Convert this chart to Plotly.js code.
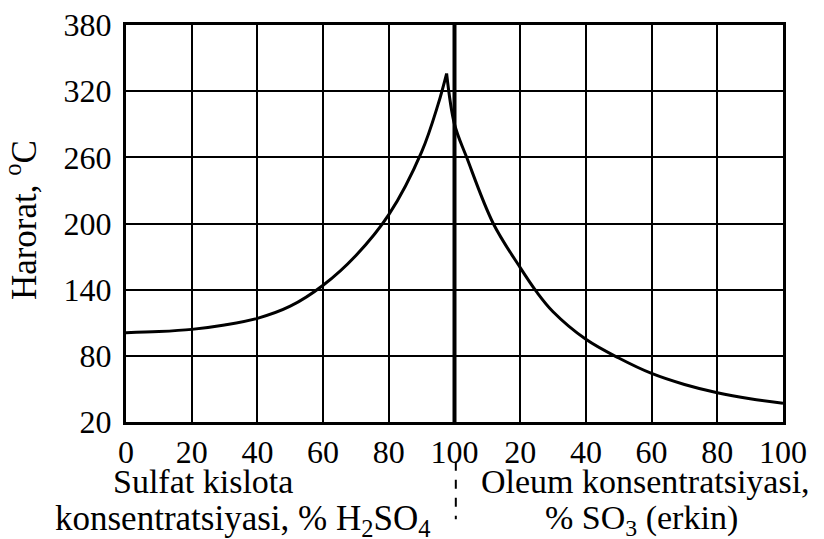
<!DOCTYPE html>
<html>
<head>
<meta charset="utf-8">
<script src="https://cdn.plot.ly/plotly-3.0.1.min.js"></script>
<style>html,body{margin:0;padding:0;background:#fff;}#chart{width:824px;height:539px;}</style>
</head>
<body>
<div id="chart"></div>
<script>
// Sulfuric acid branch: % H2SO4 -> temperature (°C)
const h2so4Pct  = [0, 10, 20, 30, 40, 50, 60, 70, 80, 90, 95, 97.6];
const h2so4Temp = [101, 102, 104, 108, 114, 125, 144, 171, 208, 265, 308, 336];
// Oleum branch: % free SO3 -> temperature (°C)
const oleumPct  = [0, 3.7, 11.8, 20, 25, 30, 40, 50, 60, 70, 80, 90, 100];
const oleumTemp = [290, 260, 200, 160, 138, 120, 95, 78, 64, 54, 46.5, 41, 37];
// Tick values on the combined axis and their labels
const xTickVals = [0, 20, 40, 60, 80, 100, 120, 140, 160, 180, 200];
const xTickText = ["0", "20", "40", "60", "80", "100", "20", "40", "60", "80", "100"];
const yTickVals = [20, 80, 140, 200, 260, 320, 380];

const serif = "Liberation Serif, Times New Roman, serif";
const peakX = h2so4Pct[h2so4Pct.length - 1];
const peakY = h2so4Temp[h2so4Temp.length - 1];

const traces = [
  {x: h2so4Pct, y: h2so4Temp, mode: "lines", line: {color: "#000", width: 3, shape: "spline", smoothing: 1}, hoverinfo: "skip"},
  {x: [peakX].concat(oleumPct.map(v => 100 + v)), y: [peakY].concat(oleumTemp), mode: "lines",
   line: {color: "#000", width: 3, shape: "spline", smoothing: 1}, hoverinfo: "skip"}
];

const txt = {family: serif, size: 34, color: "#000"};

const layout = {
  width: 824, height: 539,
  margin: {l: 126, r: 41, t: 25, b: 117},
  paper_bgcolor: "#fff", plot_bgcolor: "#fff",
  showlegend: false,
  font: {family: serif, color: "#000", size: 32},
  xaxis: {
    range: [0, 200], tickvals: xTickVals, ticktext: xTickText, ticks: "",
    showgrid: true, gridcolor: "#000", gridwidth: 2,
    showline: true, linecolor: "#000", linewidth: 3, mirror: true,
    zeroline: false, ticklabelstandoff: 0,
    tickfont: {family: serif, size: 32, color: "#000"}
  },
  yaxis: {
    range: [20, 380], tickvals: yTickVals, ticks: "",
    showgrid: true, gridcolor: "#000", gridwidth: 2,
    showline: true, linecolor: "#000", linewidth: 3, mirror: true,
    zeroline: false, ticklabelstandoff: 5,
    tickfont: {family: serif, size: 32, color: "#000"}
  },
  shapes: [
    {type: "line", xref: "x", yref: "paper", x0: 100, x1: 100, y0: 0, y1: 1, line: {color: "#000", width: 4}},
    {type: "line", xref: "x", yref: "paper", x0: 100.4, x1: 100.4, y0: -0.1, y1: -0.245, line: {color: "#000", width: 2, dash: "dash"}}
  ],
  annotations: [
    {text: "Harorat, <sup>o</sup>C", xref: "paper", yref: "paper", x: -0.158, y: 0.509, textangle: -90, xanchor: "center", yanchor: "middle", showarrow: false, font: {family: serif, size: 35, color: "#000"}},
    {text: "Sulfat kislota", xref: "paper", yref: "paper", x: 0.117, y: -0.15, xanchor: "center", yanchor: "middle", showarrow: false, font: txt},
    {text: "konsentratsiyasi, % H<sub>2</sub>SO<sub>4</sub>", xref: "paper", yref: "paper", x: 0.177, y: -0.247, xanchor: "center", yanchor: "middle", showarrow: false, font: {family: serif, size: 35, color: "#000"}},
    {text: "Oleum konsentratsiyasi,", xref: "paper", yref: "paper", x: 0.79, y: -0.15, xanchor: "center", yanchor: "middle", showarrow: false, font: txt},
    {text: "% SO<sub>3</sub> (erkin)", xref: "paper", yref: "paper", x: 0.784, y: -0.247, xanchor: "center", yanchor: "middle", showarrow: false, font: txt}
  ]
};

Plotly.newPlot("chart", traces, layout, {staticPlot: true, displayModeBar: false});
</script>
</body>
</html>
